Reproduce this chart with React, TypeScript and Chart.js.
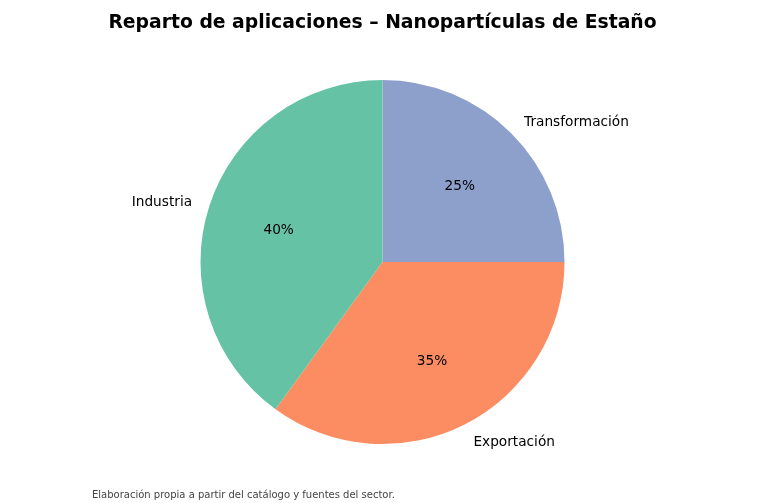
import React, { useEffect, useRef } from 'react';
import { Chart, ChartConfiguration, Plugin, registerables } from 'chart.js';

Chart.register(...registerables);

const categories = ['Transformación', 'Exportación', 'Industria'];
const shares = [25, 35, 40];
const sliceColors = ['#8da0cb', '#fc8d62', '#66c2a5'];

const TITLE = 'Reparto de aplicaciones – Nanopartículas de Estaño';
const NOTE = 'Elaboración propia a partir del catálogo y fuentes del sector.';
const FONT = '"DejaVu Sans", sans-serif';

// matplotlib-style labels: names at 1.1 r, percentages at 0.6 r
const pieText: Plugin<'pie'> = {
  id: 'pieText',
  afterDraw(chart) {
    const ctx = chart.ctx;
    const meta = chart.getDatasetMeta(0);
    const total = shares.reduce((a, b) => a + b, 0);
    ctx.save();
    ctx.fillStyle = '#000';
    ctx.textBaseline = 'middle';
    meta.data.forEach((el: any, i) => {
      const mid = (el.startAngle + el.endAngle) / 2;
      const r = el.outerRadius;
      const cx = Math.cos(mid);
      const cy = Math.sin(mid);
      ctx.font = `13.7px ${FONT}`;
      ctx.textAlign = cx > 0 ? 'left' : 'right';
      ctx.fillText(categories[i], el.x + cx * r * 1.1, el.y + cy * r * 1.1 + 2);
      ctx.textAlign = 'center';
      ctx.fillText(`${Math.round((shares[i] / total) * 100)}%`, el.x + cx * r * 0.6, el.y + cy * r * 0.6 + 2);
    });

    ctx.textAlign = 'center';
    ctx.font = `bold 18.8px ${FONT}`;
    ctx.fillText(TITLE, chart.width / 2, 23);

    ctx.textAlign = 'left';
    ctx.fillStyle = '#444';
    ctx.font = `10px ${FONT}`;
    ctx.fillText(NOTE, 92, 495);
    ctx.restore();
  },
};

export default function App() {
  const chartRef = useRef<HTMLCanvasElement>(null);
  const chartInstanceRef = useRef<Chart | null>(null);

  useEffect(() => {
    if (!chartRef.current) return;
    const ctx = chartRef.current.getContext('2d');
    if (!ctx) return;

    if (chartInstanceRef.current) {
      chartInstanceRef.current.destroy();
    }

    const config: ChartConfiguration<'pie'> = {
      type: 'pie',
      data: {
        labels: categories,
        datasets: [
          {
            data: shares,
            backgroundColor: sliceColors,
            borderWidth: 0,
          },
        ],
      },
      options: {
        animation: false,
        responsive: true,
        maintainAspectRatio: false,
        layout: { padding: { top: 80, bottom: 59, left: 0, right: 0 } },
        plugins: {
          legend: { display: false },
          tooltip: { enabled: false },
          title: { display: false },
        },
      },
      plugins: [pieText],
    };

    chartInstanceRef.current = new Chart(ctx, config);

    return () => {
      if (chartInstanceRef.current) {
        chartInstanceRef.current.destroy();
      }
    };
  }, []);

  return (
    <div style={{ position: 'absolute', left: 0, top: 0, width: 765, height: 503, background: '#fff' }}>
      <canvas ref={chartRef} />
    </div>
  );
}
